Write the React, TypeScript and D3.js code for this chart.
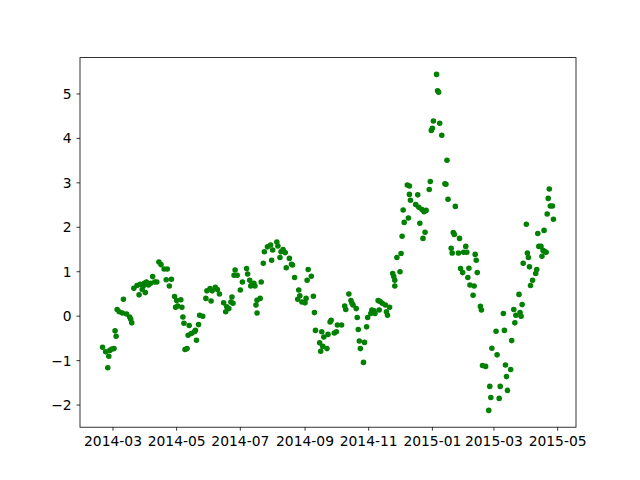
import React from "react";
import * as d3 from "d3";

const dates: string[] = [
  "2014-02-19","2014-02-22","2014-02-24","2014-02-25","2014-02-26","2014-02-28","2014-03-02","2014-03-03","2014-03-04","2014-03-05",
  "2014-03-07","2014-03-11","2014-03-10","2014-03-14","2014-03-17","2014-03-18","2014-03-19","2014-03-21","2014-03-24","2014-03-26",
  "2014-03-27","2014-03-29","2014-03-30","2014-03-31","2014-04-01","2014-04-02","2014-04-04","2014-04-06","2014-04-08","2014-04-10",
  "2014-04-12","2014-04-14","2014-04-16","2014-04-19","2014-04-21","2014-04-22","2014-04-24","2014-04-26","2014-04-29","2014-04-30",
  "2014-05-01","2014-05-02","2014-05-05","2014-05-06","2014-05-07","2014-05-08","2014-05-09","2014-05-11","2014-05-13","2014-05-12",
  "2014-05-15","2014-05-18","2014-05-19","2014-05-20","2014-05-22","2014-05-23","2014-05-26","2014-05-29","2014-05-30","2014-06-02",
  "2014-06-03","2014-06-04","2014-06-07","2014-06-09","2014-06-11","2014-06-15","2014-06-17","2014-06-18","2014-06-20","2014-06-22",
  "2014-06-23","2014-06-24","2014-06-25","2014-06-26","2014-06-28","2014-07-01","2014-07-03","2014-07-07","2014-07-08","2014-07-10",
  "2014-07-11","2014-07-12","2014-07-14","2014-07-15","2014-07-17","2014-07-16","2014-07-17","2014-07-20","2014-07-21","2014-07-23",
  "2014-07-24","2014-07-27","2014-07-30","2014-07-31","2014-08-01","2014-08-05","2014-08-06","2014-08-08","2014-08-09","2014-08-11",
  "2014-08-13","2014-08-14","2014-08-17","2014-08-19","2014-08-20","2014-08-22","2014-08-26","2014-08-27","2014-08-25","2014-08-29",
  "2014-09-01","2014-09-02","2014-09-03","2014-09-04","2014-09-07","2014-09-09","2014-09-10","2014-09-11","2014-09-15","2014-09-16",
  "2014-09-17","2014-09-18","2014-09-19","2014-09-22","2014-09-23","2014-09-25","2014-09-26","2014-09-29","2014-10-01","2014-10-02",
  "2014-10-06","2014-10-09","2014-10-10","2014-10-13","2014-10-15","2014-10-16","2014-10-17","2014-10-20","2014-10-21","2014-10-22",
  "2014-10-23","2014-10-24","2014-10-27","2014-10-28","2014-10-30","2014-10-31","2014-11-03","2014-11-04","2014-11-06","2014-11-07",
  "2014-11-10","2014-11-12","2014-11-14","2014-11-11","2014-11-17","2014-11-18","2014-11-19","2014-11-21","2014-11-24","2014-11-25",
  "2014-11-26","2014-11-26","2014-11-28","2014-12-01","2014-12-02","2014-12-03","2014-12-04","2014-12-05","2014-12-08","2014-12-09",
  "2014-12-10","2014-12-10","2014-12-11","2014-12-16","2014-12-18","2014-12-19","2014-12-20","2014-12-22","2014-12-24","2014-12-26",
  "2014-12-25","2014-12-23","2014-12-29","2014-12-30","2014-12-31","2015-01-01","2015-01-02","2015-01-05","2015-01-06","2015-01-07",
  "2015-01-08","2015-01-10","2015-01-13","2015-01-14","2015-01-15","2015-01-16","2015-01-19","2015-01-20","2015-01-21","2015-01-22",
  "2015-01-23","2015-01-26","2015-01-27","2015-01-28","2015-01-30","2015-01-31","2015-02-02","2015-02-03","2015-02-04","2015-02-05",
  "2015-02-06","2015-02-09","2015-02-10","2015-02-11","2015-02-12","2015-02-13","2015-02-16","2015-02-17","2015-02-18","2015-02-21",
  "2015-02-24","2015-02-25","2015-02-26","2015-02-27","2015-03-03","2015-03-04","2015-03-07","2015-03-06","2015-03-10","2015-03-11",
  "2015-03-12","2015-03-13","2015-03-14","2015-03-17","2015-03-18","2015-03-20","2015-03-21","2015-03-22","2015-03-25","2015-03-26",
  "2015-03-27","2015-03-28","2015-03-29","2015-04-01","2015-04-02","2015-04-03","2015-04-04","2015-04-05","2015-04-07","2015-04-10",
  "2015-04-11","2015-04-12","2015-04-13","2015-04-15","2015-04-16","2015-04-17","2015-04-18","2015-04-19","2015-04-20","2015-04-21",
  "2015-04-22","2015-04-23","2015-04-24","2015-04-26","2015-04-27"
];

const values: number[] = [
  -0.70,-0.80,-1.16,-0.90,-0.77,-0.74,-0.73,-0.33,-0.45,0.15,
  0.10,0.38,0.07,0.05,-0.02,-0.07,-0.15,0.63,0.69,0.48,
  0.72,0.60,0.68,0.74,0.53,0.77,0.70,0.74,0.89,0.77,
  0.77,1.22,1.16,1.06,0.82,1.06,0.68,0.83,0.44,0.20,
  0.35,0.23,0.37,0.20,-0.02,-0.16,-0.75,-0.73,-0.21,-0.43,
  -0.39,-0.35,-0.32,-0.54,-0.19,0.02,0.00,0.40,0.57,0.62,
  0.34,0.57,0.65,0.60,0.50,0.30,0.10,0.21,0.17,0.32,
  0.43,0.29,0.92,1.04,0.92,0.59,0.77,1.07,0.95,0.81,
  0.68,0.70,0.74,0.68,0.36,0.25,0.07,0.40,0.77,1.19,
  1.45,1.56,1.60,1.26,1.49,1.67,1.58,1.32,1.45,1.50,
  1.43,1.09,1.30,1.17,1.15,0.87,0.59,0.46,0.38,0.32,
  0.30,0.40,0.81,1.05,0.90,0.45,0.08,-0.32,-0.60,-0.79,
  -0.35,-0.68,-0.47,-0.73,-0.41,-0.13,-0.09,-0.38,-0.35,-0.20,
  -0.20,0.23,0.15,0.50,0.35,0.29,0.25,0.17,-0.03,-0.30,
  -0.56,-0.73,-1.04,-0.59,-0.24,-0.03,0.06,0.14,0.12,0.06,
  0.35,0.33,0.29,0.14,0.25,0.10,0.02,0.20,0.96,0.89,
  0.81,0.68,1.32,1.00,1.41,1.80,2.39,2.11,2.95,2.21,
  2.74,2.93,2.61,2.51,2.73,2.45,2.09,2.40,2.35,2.38,
  1.89,1.75,2.85,3.03,4.18,4.23,4.39,5.44,5.07,5.04,
  4.34,4.07,2.98,2.97,3.51,2.63,1.53,1.42,1.88,1.84,
  2.47,1.42,1.75,1.07,0.98,1.44,1.57,1.44,0.87,1.08,
  0.70,0.47,0.68,1.39,1.26,0.98,0.22,0.14,-1.11,-1.13,
  -2.12,-1.58,-1.83,-0.72,-0.34,-0.87,-1.58,-1.85,0.06,-0.32,
  -1.10,-1.36,-1.67,-1.20,-0.55,0.15,-0.15,0.02,0.49,0.08,
  0.00,0.26,1.19,2.07,1.42,1.32,1.11,0.69,0.81,0.96,
  1.05,1.86,1.57,1.57,1.35,1.48,1.93,1.45,1.44,2.30,
  2.65,2.86,2.48,2.48,2.18
];

const yTickValues: number[] = [-2, -1, 0, 1, 2, 3, 4, 5];

const W = 640;
const H = 480;
const left = 80;
const right = 576;
const top = 57.6;
const bottom = 427.2;
const FONT = "DejaVu Sans, sans-serif";
const FS = 13.89;

export default function App() {
  const parse = d3.timeParse("%Y-%m-%d");
  const pts = dates.map((d, i) => ({ t: parse(d) as Date, v: values[i] }));

  const [t0, t1] = d3.extent(pts, (p) => p.t.getTime()) as [number, number];
  const tp = (t1 - t0) * 0.05;
  const x = d3.scaleTime().domain([new Date(t0 - tp), new Date(t1 + tp)]).range([left, right]);

  const [v0, v1] = d3.extent(pts, (p) => p.v) as [number, number];
  const vp = (v1 - v0) * 0.05;
  const y = d3.scaleLinear().domain([v0 - vp, v1 + vp]).range([bottom, top]);

  const xTicks = x.ticks(d3.timeMonth.every(2) as d3.TimeInterval);
  const fmt = d3.timeFormat("%Y-%m");
  const yfmt = (v: number) => (v < 0 ? "\u2212" + Math.abs(v) : String(v));

  return (
    <div style={{ position: "absolute", left: 0, top: 0 }}>
      <svg width={W} height={H} style={{ display: "block", background: "#fff" }}>
        <rect x={0} y={0} width={W} height={H} fill="#fff" />
        <g>
          {pts.map((p, i) => (
            <circle key={i} cx={x(p.t)} cy={y(p.v)} r={2.1} fill="#008000" stroke="#008000" strokeWidth={1.39} />
          ))}
        </g>
        <rect x={left} y={top} width={right - left} height={bottom - top} fill="none" stroke="#000" strokeWidth={0.8} />
        <g>
          {xTicks.map((t, i) => (
            <g key={i}>
              <line x1={x(t)} x2={x(t)} y1={bottom} y2={bottom + 3.5} stroke="#000" strokeWidth={0.8} />
              <text x={x(t)} y={bottom + 3.5 + 4.86} dy="0.76em" textAnchor="middle" fontFamily={FONT} fontSize={FS} fill="#000">
                {fmt(t)}
              </text>
            </g>
          ))}
        </g>
        <g>
          {yTickValues.map((v, i) => (
            <g key={i}>
              <line x1={left - 3.5} x2={left} y1={y(v)} y2={y(v)} stroke="#000" strokeWidth={0.8} />
              <text x={left - 3.5 - 4.86} y={y(v)} dy="0.36em" textAnchor="end" fontFamily={FONT} fontSize={FS} fill="#000">
                {yfmt(v)}
              </text>
            </g>
          ))}
        </g>
      </svg>
    </div>
  );
}
